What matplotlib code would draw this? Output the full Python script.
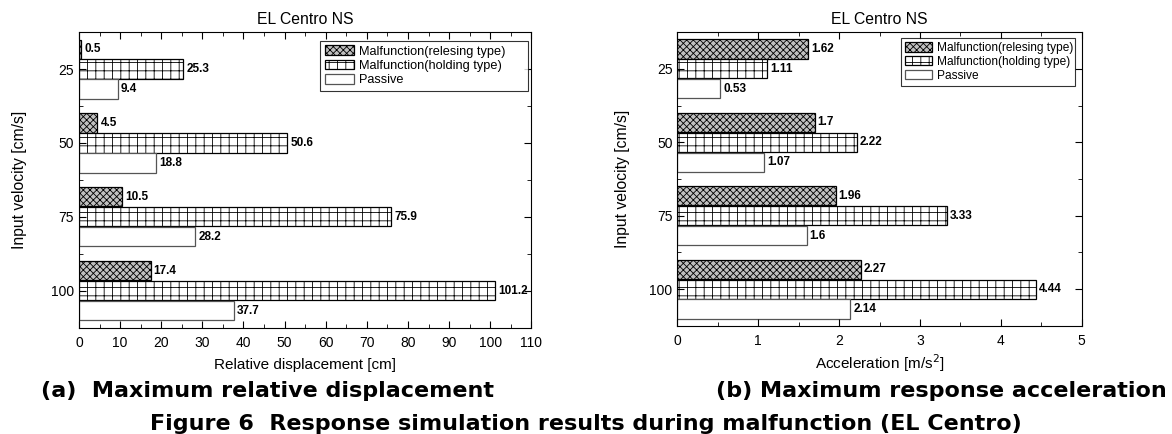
import matplotlib
matplotlib.use("Agg")
import matplotlib.pyplot as plt
import numpy as np
from matplotlib.ticker import MultipleLocator

plt.rcParams['font.family'] = ['Liberation Sans', 'DejaVu Sans']
plt.rcParams['hatch.linewidth'] = 0.6

velocities = ['25', '50', '75', '100']
series_names = ['Malfunction(relesing type)', 'Malfunction(holding type)', 'Passive']

disp_releasing = [0.5, 4.5, 10.5, 17.4]
disp_holding = [25.3, 50.6, 75.9, 101.2]
disp_passive = [9.4, 18.8, 28.2, 37.7]

acc_releasing = [1.62, 1.7, 1.96, 2.27]
acc_holding = [1.11, 2.22, 3.33, 4.44]
acc_passive = [0.53, 1.07, 1.6, 2.14]

styles = [
    dict(facecolor='#c0c0c0', edgecolor='black', hatch='xxxxx'),
    dict(facecolor='white', edgecolor='black', hatch='++'),
    dict(facecolor='white', edgecolor='#555555', hatch=None),
]


def draw_panel(ax, series, xmax, major, minor, xlabel, xpad, ypad, leg_box, leg_size):
    y = np.arange(1, len(velocities) + 1)
    h = 0.26
    offsets = [-0.27, 0.0, 0.27]
    for vals, off, st, name in zip(series, offsets, styles, series_names):
        ax.barh(y + off, vals, height=h, label=name, linewidth=0.9, **st)
        for yi, v in zip(y, vals):
            ax.text(v + xmax * 0.007, yi + off, f'{v:g}', va='center', ha='left',
                    fontsize=8.5, fontweight='bold')
    ax.set_ylim(4.5, 0.5)
    ax.set_xlim(0, xmax)
    ax.set_yticks(y)
    ax.set_yticklabels(velocities)
    ax.yaxis.set_minor_locator(MultipleLocator(0.5))
    ax.xaxis.set_major_locator(MultipleLocator(major))
    ax.xaxis.set_minor_locator(MultipleLocator(minor))
    ax.tick_params(which='both', direction='in', top=True, right=True, labelsize=10)
    ax.tick_params(axis='x', which='major', pad=6)
    ax.tick_params(which='major', length=5)
    ax.tick_params(which='minor', length=3)
    ax.set_xlabel(xlabel, fontsize=11, labelpad=xpad)
    ax.set_ylabel('Input velocity [cm/s]', fontsize=11.3, labelpad=ypad)
    ax.set_title('EL Centro NS', fontsize=11.3, pad=6)
    # legend stretched to the width of the box in the original
    leg = ax.legend(loc='upper left', bbox_to_anchor=leg_box, mode='expand',
                    fontsize=leg_size, frameon=True, fancybox=False, edgecolor='black',
                    borderpad=0.35, labelspacing=0.15, handlelength=2.3,
                    handleheight=0.8, handletextpad=0.4, borderaxespad=0)
    leg.get_frame().set_linewidth(0.8)


fig = plt.figure(figsize=(11.72, 4.34), dpi=100)
ax1 = fig.add_axes([0.0674, 0.245, 0.386, 0.681])
ax2 = fig.add_axes([0.578, 0.249, 0.345, 0.677])

draw_panel(ax1, [disp_releasing, disp_holding, disp_passive], 110, 10, 5,
           'Relative displacement [cm]', 6, 17, (0.533, 0.97, 0.46, 0.0), 9.2)
draw_panel(ax2, [acc_releasing, acc_holding, acc_passive], 5, 1, 0.5,
           'Acceleration [m/s$^2$]', 3, 14, (0.552, 0.98, 0.431, 0.0), 8.6)

cap = dict(fontsize=16, fontweight='bold', family='DejaVu Sans', va='baseline')
fig.text(0.228, 0.085, '(a)  Maximum relative displacement', ha='center', **cap)
fig.text(0.803, 0.085, '(b) Maximum response acceleration', ha='center', **cap)
fig.text(0.5, 0.01, 'Figure 6  Response simulation results during malfunction (EL Centro)',
         ha='center', **cap)

fig.savefig('out.png', dpi=100)
